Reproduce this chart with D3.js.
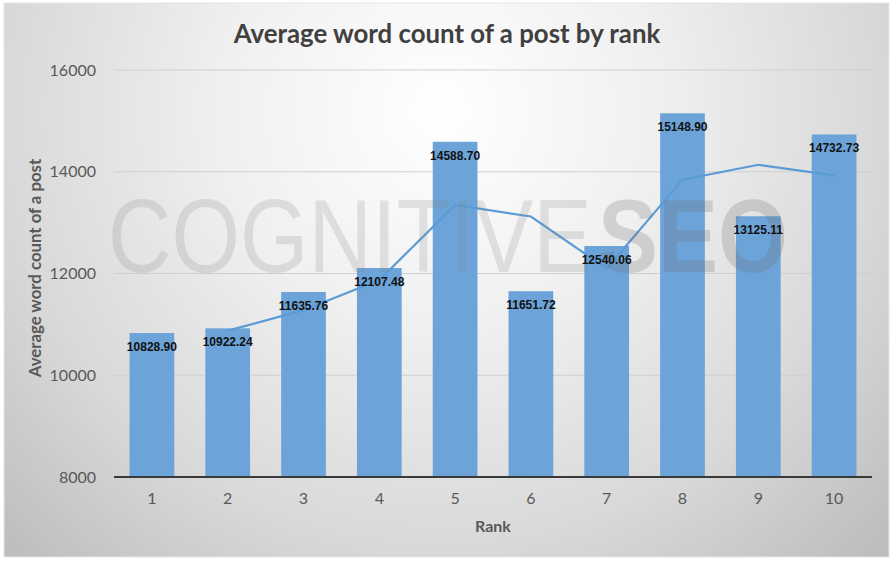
<!DOCTYPE html>
<html>
<head>
<meta charset="utf-8">
<script src="https://cdn.jsdelivr.net/npm/d3@7"></script>
<style>
  html, body { margin: 0; padding: 0; background: #ffffff; }
  svg { display: block; }
</style>
</head>
<body>
<svg id="chart" width="896" height="563"></svg>
<script>
// ---- data ----
const ranks = ["1", "2", "3", "4", "5", "6", "7", "8", "9", "10"];
const wordCounts = [10828.90, 10922.24, 11635.76, 12107.48, 14588.70, 11651.72, 12540.06, 15148.90, 13125.11, 14732.73];
const trendRanks = ["2", "3", "4", "5", "6", "7", "8", "9", "10"];
const trendValues = [10876, 11279, 11872, 13348, 13120, 12096, 13845, 14137, 13929];
const yTicks = [8000, 10000, 12000, 14000, 16000];
const titleText = "Average word count of a post by rank";
const yTitle = "Average word count of a post";
const xTitle = "Rank";

// ---- layout ----
const frame = { x: 4, y: 3, w: 885, h: 554 };
const plot = { left: 114, right: 872, top: 70, bottom: 477 };

const svg = d3.select("#chart");
const defs = svg.append("defs");
const grad = defs.append("radialGradient")
  .attr("id", "bg").attr("gradientUnits", "userSpaceOnUse")
  .attr("cx", 440).attr("cy", 110).attr("r", 620);
grad.append("stop").attr("offset", "0").attr("stop-color", "#ffffff");
grad.append("stop").attr("offset", "0.35").attr("stop-color", "#f0f0f0");
grad.append("stop").attr("offset", "0.7").attr("stop-color", "#d9d9d9");
grad.append("stop").attr("offset", "1").attr("stop-color", "#bdbdbd");

svg.append("rect")
  .attr("x", frame.x).attr("y", frame.y).attr("width", frame.w).attr("height", frame.h)
  .attr("fill", "url(#bg)").attr("stroke", "#e6e6e6").attr("stroke-width", 1);

const x = d3.scaleBand().domain(ranks).range([plot.left, plot.right]).paddingInner(0.41).paddingOuter(0.205);
const y = d3.scaleLinear().domain([8000, 16000]).range([plot.bottom, plot.top]);

// gridlines
svg.append("g")
  .selectAll("line").data(yTicks.filter(t => t !== 8000)).join("line")
  .attr("x1", plot.left).attr("x2", plot.right)
  .attr("y1", d => y(d)).attr("y2", d => y(d))
  .attr("stroke", "#cfcfcf").attr("stroke-width", 1.2);

// y axis labels
const yAxis = d3.axisLeft(y).tickValues(yTicks).tickSize(0).tickPadding(18).tickFormat(d3.format("d"));
const gy = svg.append("g").attr("transform", `translate(${plot.left},0)`).call(yAxis);
gy.select(".domain").remove();
gy.selectAll("text").attr("font-family", "Lato, 'Open Sans', sans-serif").attr("font-size", 16).attr("fill", "#595959");

// bars
svg.append("g").selectAll("rect").data(wordCounts).join("rect")
  .attr("x", (d, i) => x(ranks[i]))
  .attr("width", x.bandwidth())
  .attr("y", d => y(d))
  .attr("height", d => y(8000) - y(d))
  .attr("fill", "#6ca4d9");

// trend line
const line = d3.line().x((d, i) => x(trendRanks[i]) + x.bandwidth() / 2).y(d => y(d));
svg.append("path").datum(trendValues)
  .attr("d", line).attr("fill", "none").attr("stroke", "#5b9bd5").attr("stroke-width", 2.2);

// watermark
const wm = svg.append("g").attr("font-family", "'Liberation Sans', Arial, sans-serif");
wm.append("text").attr("x", 108).attr("y", 272)
  .attr("font-size", 104).attr("textLength", 484).attr("lengthAdjust", "spacingAndGlyphs")
  .attr("fill", "#808080").attr("fill-opacity", 0.2).text("COGNITIVE");
wm.append("text").attr("x", 598).attr("y", 272)
  .attr("font-size", 104).attr("font-weight", "bold").attr("textLength", 190).attr("lengthAdjust", "spacingAndGlyphs")
  .attr("fill", "#6e6e6e").attr("fill-opacity", 0.24).text("SEO");

// value labels
svg.append("g").selectAll("text").data(wordCounts).join("text")
  .attr("x", (d, i) => x(ranks[i]) + x.bandwidth() / 2)
  .attr("y", d => y(d) + 18)
  .attr("text-anchor", "middle")
  .attr("font-family", "'Liberation Sans', Arial, sans-serif")
  .attr("font-weight", "bold").attr("font-size", 12)
  .attr("fill", "#111111")
  .text(d => d.toFixed(2));

// x axis
const xAxis = d3.axisBottom(x).tickSize(0).tickPadding(16);
const gx = svg.append("g").attr("transform", `translate(0,${plot.bottom})`).call(xAxis);
gx.select(".domain").remove();
gx.selectAll("text").attr("font-family", "Lato, 'Open Sans', sans-serif").attr("font-size", 16).attr("fill", "#595959");
svg.append("line").attr("x1", plot.left).attr("x2", plot.right)
  .attr("y1", y(8000)).attr("y2", y(8000))
  .attr("stroke", "#3a3a3a").attr("stroke-width", 2);

// titles
svg.append("text").attr("x", 447).attr("y", 43).attr("text-anchor", "middle")
  .attr("font-family", "Lato, 'Open Sans', sans-serif").attr("font-weight", "bold")
  .attr("font-size", 25.8).attr("fill", "#404040").text(titleText);

svg.append("text").attr("x", 493).attr("y", 532).attr("text-anchor", "middle")
  .attr("font-family", "Lato, 'Open Sans', sans-serif").attr("font-weight", "bold")
  .attr("font-size", 16).attr("fill", "#595959").text(xTitle);

svg.append("text").attr("transform", "translate(41,268) rotate(-90)").attr("text-anchor", "middle")
  .attr("font-family", "Lato, 'Open Sans', sans-serif").attr("font-weight", "bold")
  .attr("font-size", 16.8).attr("fill", "#595959").text(yTitle);
</script>
</body>
</html>
